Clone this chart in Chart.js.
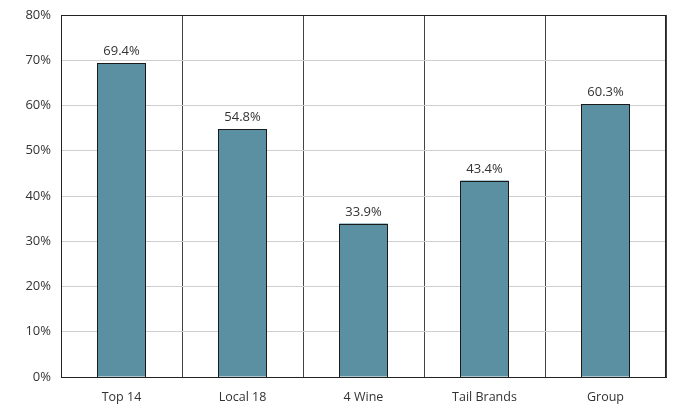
<!DOCTYPE html>
<html>
<head>
<meta charset="utf-8">
<script src="https://cdn.jsdelivr.net/npm/chart.js@4"></script>
<style>
  html, body { margin: 0; padding: 0; background: #fff; }
  #wrap { width: 675px; height: 406px; }
</style>
</head>
<body>
<div id="wrap"><canvas id="chart"></canvas></div>
<script>
const categories = ["Top 14", "Local 18", "4 Wine", "Tail Brands", "Group"];
const shares = [69.4, 54.8, 33.9, 43.4, 60.3];
const yTicks = [0, 10, 20, 30, 40, 50, 60, 70, 80];

const FONT = "'Open Sans', 'Liberation Sans', sans-serif";

// crisp bar outlines, value labels and the dark frame round the plot area
const valueLabels = {
  id: "valueLabels",
  afterDatasetsDraw(chart) {
    const ctx = chart.ctx;
    const meta = chart.getDatasetMeta(0);
    ctx.save();
    ctx.strokeStyle = "#1a1a1a";
    ctx.lineWidth = 1;
    meta.data.forEach(bar => {
      const l = Math.round(bar.x - bar.width / 2);
      const r = Math.round(bar.x + bar.width / 2);
      const t = Math.round(bar.y);
      const b = Math.round(bar.base);
      ctx.strokeRect(l + 0.5, t + 0.5, r - l - 1, b - t);
    });
    ctx.font = "13px " + FONT;
    ctx.fillStyle = "#333";
    ctx.textAlign = "center";
    ctx.textBaseline = "alphabetic";
    meta.data.forEach((bar, i) => {
      ctx.fillText(shares[i].toFixed(1) + "%", bar.x, bar.y - 8);
    });
    const a = chart.chartArea;
    ctx.strokeStyle = "#222";
    ctx.strokeRect(Math.round(a.left) + 0.5, Math.round(a.top) + 0.5,
      Math.round(a.right - a.left) - 1, Math.round(a.bottom - a.top));
    ctx.restore();
  }
};

new Chart(document.getElementById("chart"), {
  type: "bar",
  data: {
    labels: categories,
    datasets: [{
      data: shares,
      backgroundColor: "#5b8fa2",
      borderWidth: 0,
      inflateAmount: 0,
      barPercentage: 0.4,
      categoryPercentage: 1
    }]
  },
  options: {
    responsive: true,
    maintainAspectRatio: false,
    animation: false,
    layout: { padding: { top: 15, right: 9, left: 0, bottom: 0 } },
    plugins: { legend: { display: false }, tooltip: { enabled: false } },
    scales: {
      x: {
        offset: true,
        grid: { offset: true, color: "#444", drawTicks: false, lineWidth: 1 },
        border: { color: "#222" },
        ticks: { color: "#333", font: { family: FONT, size: 12.5 }, padding: 13 },
        afterFit(scale) { scale.height = 29; }
      },
      y: {
        min: 0,
        max: 80,
        afterBuildTicks(scale) { scale.ticks = yTicks.map(v => ({ value: v })); },
        grid: { color: "#cfcfcf", drawTicks: false },
        border: { color: "#222" },
        ticks: {
          color: "#333",
          font: { family: FONT, size: 13 },
          padding: 10,
          callback: v => v + "%"
        },
        afterFit(scale) {
          scale.width = 61;
          scale.paddingTop = 0;
          scale.paddingBottom = 0;
        }
      }
    }
  },
  plugins: [valueLabels]
});
</script>
</body>
</html>
